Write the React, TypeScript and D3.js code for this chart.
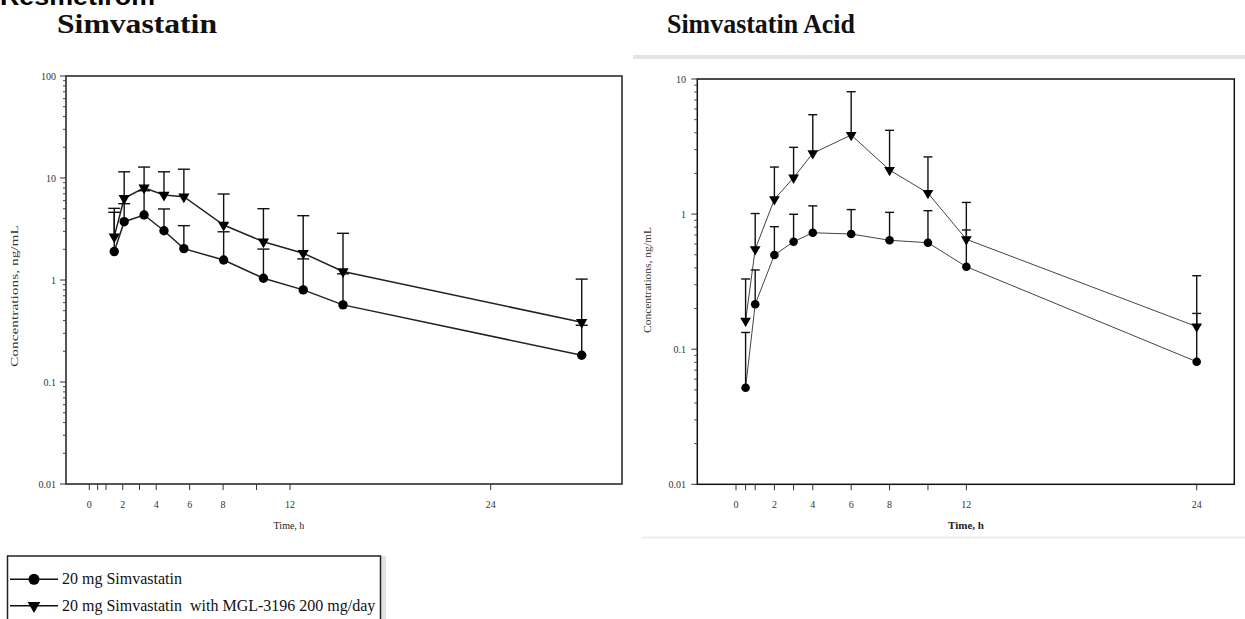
import React from "react";
import * as d3 from "d3";

// ---------- data ----------
const times = [0.5, 1, 2, 3, 4, 6, 8, 10, 12, 24];
const xTickValues = [0, 0.5, 1, 2, 3, 4, 6, 8, 10, 12, 24];
const xTickLabels = [0, 2, 4, 6, 8, 12, 24];

// Simvastatin (left panel), ng/mL
const simvaMean = [1.9, 3.73, 4.34, 3.04, 2.03, 1.57, 1.04, 0.8, 0.57, 0.183];
const simvaUpper = [4.61, 5.6, 7.5, 4.97, 3.41, 2.97, 2.01, 1.61, 1.15, 0.36];
const comboMean = [2.66, 6.32, 8.03, 6.81, 6.56, 3.46, 2.37, 1.83, 1.21, 0.385];
const comboUpper = [5.04, 11.5, 12.8, 11.5, 12.2, 6.97, 5.0, 4.27, 2.87, 1.02];

// Simvastatin Acid (right panel), ng/mL
const acidMean = [0.0519, 0.215, 0.498, 0.625, 0.728, 0.712, 0.64, 0.614, 0.408, 0.0808];
const acidUpper = [0.133, 0.386, 0.807, 0.997, 1.15, 1.08, 1.03, 1.06, 0.763, 0.184];
const acidComboMean = [0.162, 0.549, 1.287, 1.86, 2.82, 3.85, 2.12, 1.43, 0.651, 0.147];
const acidComboUpper = [0.331, 1.01, 2.23, 3.12, 5.44, 8.05, 4.17, 2.65, 1.22, 0.35];

const leftYTicks = [100, 10, 1, 0.1, 0.01];
const rightYTicks = [10, 1, 0.1, 0.01];

const legendLabels = ["20 mg Simvastatin", "20 mg Simvastatin  with MGL-3196 200 mg/day"];

const serif = "'Liberation Serif', 'Times New Roman', serif";

function minorTicks(lo: number, hi: number) {
  const out: number[] = [];
  for (let e = Math.log10(lo); e < Math.log10(hi); e++) {
    for (let m = 2; m <= 9; m++) out.push(m * Math.pow(10, e));
  }
  return out;
}

const triPath = (s: number) => d3.symbol(d3.symbolTriangle, s)() as string;

type PanelProps = {
  frame: { x0: number; x1: number; y0: number; y1: number };
  yScale: d3.ScaleLogarithmic<number, number>;
  xAxisScale: d3.ScaleLinear<number, number>;
  xDataScale: d3.ScaleLinear<number, number>;
  yTicks: number[];
  yMin: number;
  yMax: number;
  circleMean: number[];
  circleUpper: number[];
  triMean: number[];
  triUpper: number[];
  frameStroke: string;
  frameWidth: number;
  lineStroke: string;
  lineWidth: number;
  r: number;
  triSize: number;
  cap: number;
  tickFont: number;
  labelEnd: number;
  yLabel: { x: number; y: number; len: number; size: number };
  xLabel: { x: number; y: number; size: number; weight: string };
};

function Panel(p: PanelProps) {
  const { frame, yScale, xAxisScale, xDataScale } = p;
  const line = d3
    .line<number>()
    .x((_, i) => xDataScale(times[i]))
    .y((d) => yScale(d));
  const series = [
    { mean: p.circleMean, upper: p.circleUpper, kind: "circle" },
    { mean: p.triMean, upper: p.triUpper, kind: "tri" },
  ];
  return (
    <g>
      {/* frame */}
      <rect
        x={frame.x0}
        y={frame.y0}
        width={frame.x1 - frame.x0}
        height={frame.y1 - frame.y0}
        fill="none"
        stroke={p.frameStroke}
        strokeWidth={p.frameWidth}
      />
      {/* y ticks */}
      {p.yTicks.map((t) => (
        <g key={"yt" + t}>
          <line x1={frame.x0 - 6} x2={frame.x0} y1={yScale(t)} y2={yScale(t)} stroke="#333" strokeWidth={1} />
          <text
            x={p.labelEnd}
            y={yScale(t)}
            dy="0.35em"
            textAnchor="end"
            fontFamily={serif}
            fontSize={p.tickFont}
            fill="#333"
          >
            {t}
          </text>
        </g>
      ))}
      {minorTicks(p.yMin, p.yMax).map((t, i) => (
        <line key={"ym" + i} x1={frame.x0 - 3} x2={frame.x0} y1={yScale(t)} y2={yScale(t)} stroke="#444" strokeWidth={1} />
      ))}
      {/* x ticks */}
      {xTickValues.map((t) => (
        <line
          key={"xt" + t}
          x1={xAxisScale(t)}
          x2={xAxisScale(t)}
          y1={frame.y1}
          y2={frame.y1 + 6}
          stroke="#333"
          strokeWidth={1}
        />
      ))}
      {xTickLabels.map((t) => (
        <text
          key={"xl" + t}
          x={xAxisScale(t)}
          y={frame.y1 + 24}
          textAnchor="middle"
          fontFamily={serif}
          fontSize={p.tickFont}
          fill="#333"
        >
          {t}
        </text>
      ))}
      <text
        x={p.xLabel.x}
        y={p.xLabel.y}
        textAnchor="middle"
        fontFamily={serif}
        fontSize={p.xLabel.size}
        fontWeight={p.xLabel.weight}
        fill="#222"
      >
        Time, h
      </text>
      <text
        transform={`translate(${p.yLabel.x},${p.yLabel.y}) rotate(-90)`}
        textAnchor="middle"
        fontFamily={serif}
        fontSize={p.yLabel.size}
        fill="#333"
        textLength={p.yLabel.len}
        lengthAdjust="spacingAndGlyphs"
      >
        Concentrations, ng/mL
      </text>
      {/* lines */}
      {series.map((s, si) => (
        <path key={"ln" + si} d={line(s.mean) as string} fill="none" stroke={p.lineStroke} strokeWidth={p.lineWidth} />
      ))}
      {/* error bars */}
      {series.map((s, si) =>
        s.mean.map((m, i) => {
          const x = xDataScale(times[i]);
          const yu = yScale(s.upper[i]);
          return (
            <g key={"eb" + si + "-" + i}>
              <line x1={x} x2={x} y1={yScale(m)} y2={yu} stroke="#111" strokeWidth={1.4} />
              <line x1={x - p.cap / 2} x2={x + p.cap / 2} y1={yu} y2={yu} stroke="#111" strokeWidth={1.4} />
            </g>
          );
        })
      )}
      {/* markers */}
      {p.circleMean.map((m, i) => (
        <circle key={"c" + i} cx={xDataScale(times[i])} cy={yScale(m)} r={p.r} fill="#000" />
      ))}
      {p.triMean.map((m, i) => (
        <path
          key={"t" + i}
          d={triPath(p.triSize)}
          transform={`translate(${xDataScale(times[i])},${yScale(m)}) rotate(180)`}
          fill="#000"
        />
      ))}
    </g>
  );
}

export default function App() {
  // left panel scales
  const yL = d3.scaleLog().domain([0.01, 100]).range([484, 76]);
  const xAxisL = d3.scaleLinear().domain([0, 24]).range([89.3, 490.7]);
  const xDataL = d3.scaleLinear().domain([0, 24]).range([104.3, 581.7]);
  // right panel scales
  const yR = d3.scaleLog().domain([0.01, 10]).range([484.3, 79]);
  const xR = d3.scaleLinear().domain([0, 24]).range([736, 1196.7]);

  return (
    <svg
      width={1245}
      height={619}
      style={{ position: "absolute", left: 0, top: 0, background: "#fff" }}
    >
      <rect x={0} y={0} width={1245} height={619} fill="#fff" />
      {/* cut-off heading */}
      <text x={0} y={5} fontFamily="'Liberation Sans', Arial, sans-serif" fontWeight="bold" fontSize={24} textLength={155} lengthAdjust="spacingAndGlyphs" fill="#000">
        Resmetirom
      </text>
      {/* titles */}
      <text x={57} y={33} fontFamily={serif} fontWeight="bold" fontSize={28} textLength={160} lengthAdjust="spacingAndGlyphs" fill="#111">
        Simvastatin
      </text>
      <text x={667} y={33} fontFamily={serif} fontWeight="bold" fontSize={28} textLength={188} lengthAdjust="spacingAndGlyphs" fill="#111">
        Simvastatin Acid
      </text>
      {/* grey separator lines of right panel */}
      <line x1={633} x2={1245} y1={57} y2={57} stroke="#e4e4e4" strokeWidth={4} />
      <line x1={642} x2={1245} y1={537.5} y2={537.5} stroke="#ececec" strokeWidth={2} />

      <Panel
        frame={{ x0: 66, x1: 622, y0: 76, y1: 484 }}
        yScale={yL}
        xAxisScale={xAxisL}
        xDataScale={xDataL}
        yTicks={leftYTicks}
        yMin={0.01}
        yMax={100}
        circleMean={simvaMean}
        circleUpper={simvaUpper}
        triMean={comboMean}
        triUpper={comboUpper}
        frameStroke="#444"
        frameWidth={1.8}
        lineStroke="#222"
        lineWidth={1.5}
        r={4.7}
        triSize={55}
        cap={12}
        tickFont={10}
        labelEnd={56}
        yLabel={{ x: 18, y: 296, len: 142, size: 11 }}
        xLabel={{ x: 289, y: 529, size: 10, weight: "normal" }}
      />
      <Panel
        frame={{ x0: 697.3, x1: 1234.3, y0: 79, y1: 484.3 }}
        yScale={yR}
        xAxisScale={xR}
        xDataScale={xR}
        yTicks={rightYTicks}
        yMin={0.01}
        yMax={10}
        circleMean={acidMean}
        circleUpper={acidUpper}
        triMean={acidComboMean}
        triUpper={acidComboUpper}
        frameStroke="#111"
        frameWidth={1.5}
        lineStroke="#444"
        lineWidth={1}
        r={4.3}
        triSize={50}
        cap={9}
        tickFont={10}
        labelEnd={686}
        yLabel={{ x: 651, y: 280, len: 106, size: 10.5 }}
        xLabel={{ x: 966, y: 529, size: 11, weight: "bold" }}
      />

      {/* legend */}
      <rect x={381} y={556} width={5} height={70} fill="#e2e2e2" />
      <rect x={7.5} y={556} width={373} height={70} fill="#fff" stroke="#222" strokeWidth={1.5} />
      {legendLabels.map((label, i) => {
        const y = 579.3 + i * 26.4;
        return (
          <g key={"lg" + i}>
            <line x1={10} x2={58} y1={y} y2={y} stroke="#111" strokeWidth={1.6} />
            {i === 0 ? (
              <circle cx={34} cy={y} r={5.5} fill="#000" />
            ) : (
              <path d={triPath(70)} transform={`translate(34,${y}) rotate(180)`} fill="#000" />
            )}
            <text x={62} y={y + 5} fontFamily={serif} fontSize={16} fill="#111" style={{ whiteSpace: "pre" }}>
              {label}
            </text>
          </g>
        );
      })}
    </svg>
  );
}
